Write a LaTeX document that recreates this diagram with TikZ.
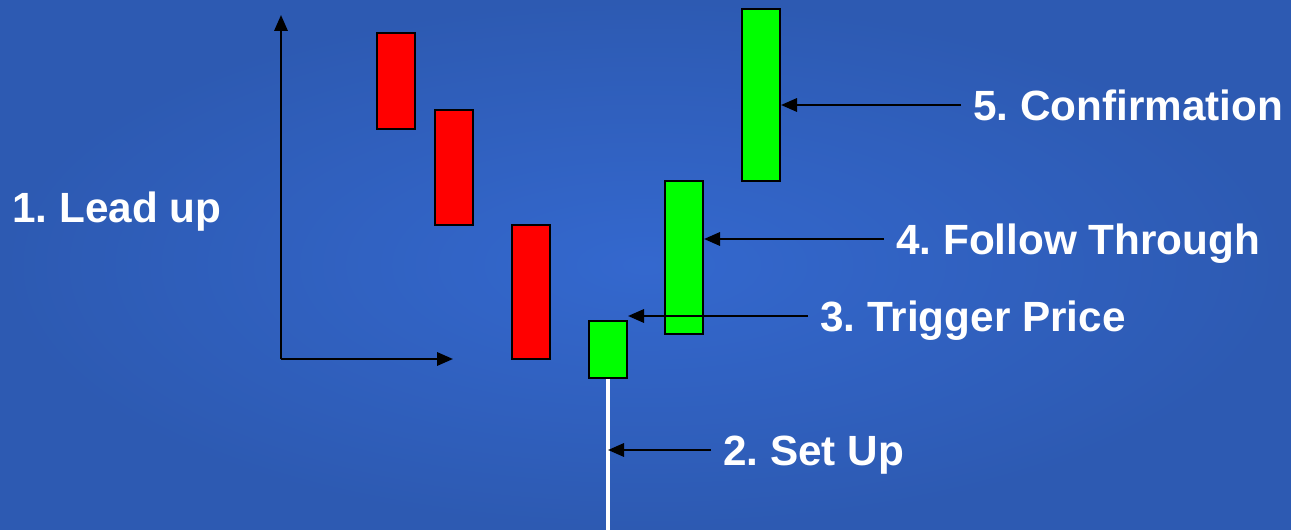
\documentclass[tikz,border=0pt]{standalone}
\usepackage{fontspec}
\setmainfont{Liberation Sans}
\usetikzlibrary{arrows.meta}

\definecolor{bgin}{RGB}{52,104,206}
\definecolor{bgout}{RGB}{45,90,178}
\definecolor{barred}{RGB}{255,0,0}
\definecolor{bargreen}{RGB}{0,255,0}

\tikzset{
  candle/.style={draw=black, line width=1.5pt, minimum width=28.5pt, inner sep=0pt},
  label/.style={anchor=west, text=white, font=\bfseries\fontsize{31.7}{38}\selectfont\frenchspacing,
    inner xsep=9pt, inner ysep=0pt, text height=22.7pt, text depth=0pt},
  pointer/.style={-{Triangle[length=12pt,width=10pt]}, line width=1.7pt, black}
}

\begin{document}
\begin{tikzpicture}[x=0.75pt, y=-0.75pt]
  \useasboundingbox (0,0) rectangle (1291,530);
  \fill[inner color=bgin, outer color=bgout] (0,0) rectangle (1291,530);

  % axes of the lead up
  \coordinate (origin) at (281,359);
  \coordinate (ytop) at (281,15);
  \coordinate (xend) at (453,359);
  \draw[pointer] (origin) -- (ytop);
  \draw[pointer] (origin) -- (xend);

  % bars
  \node[candle, fill=barred, minimum height=72pt] (r1) at (396,81) {};
  \node[candle, fill=barred, minimum height=86.25pt] (r2) at (454,167.5) {};
  \node[candle, fill=barred, minimum height=100.5pt] (r3) at (531,292) {};
  \node[candle, fill=bargreen, minimum height=42.75pt] (trig) at (608,349.5) {};
  \node[candle, fill=bargreen, minimum height=114.75pt] (follow) at (684,257.5) {};
  \node[candle, fill=bargreen, minimum height=129pt] (confirm) at (761,95) {};

  % set up line
  \coordinate (wick) at (608,530);
  \draw[white, line width=3pt] (trig.south) -- (wick);

  % labels
  \node[label, inner xsep=0pt] (lead) at (12,207) {1. Lead up};
  \node[label] (setup) at (711,450) {2. Set Up};
  \node[label] (trigger) at (808,316) {3. Trigger Price};
  \node[label] (through) at (884,239) {4. Follow Through};
  \node[label] (confirmation) at (961,105) {5. Confirmation};

  \draw[pointer] (setup.west) -- (wick |- setup.west);
  \draw[pointer] (trigger.west) -- (trig.east |- trigger.west);
  \draw[pointer] (through.west) -- (follow.east |- through.west);
  \draw[pointer] (confirmation.west) -- (confirm.east |- confirmation.west);
\end{tikzpicture}
\end{document}
